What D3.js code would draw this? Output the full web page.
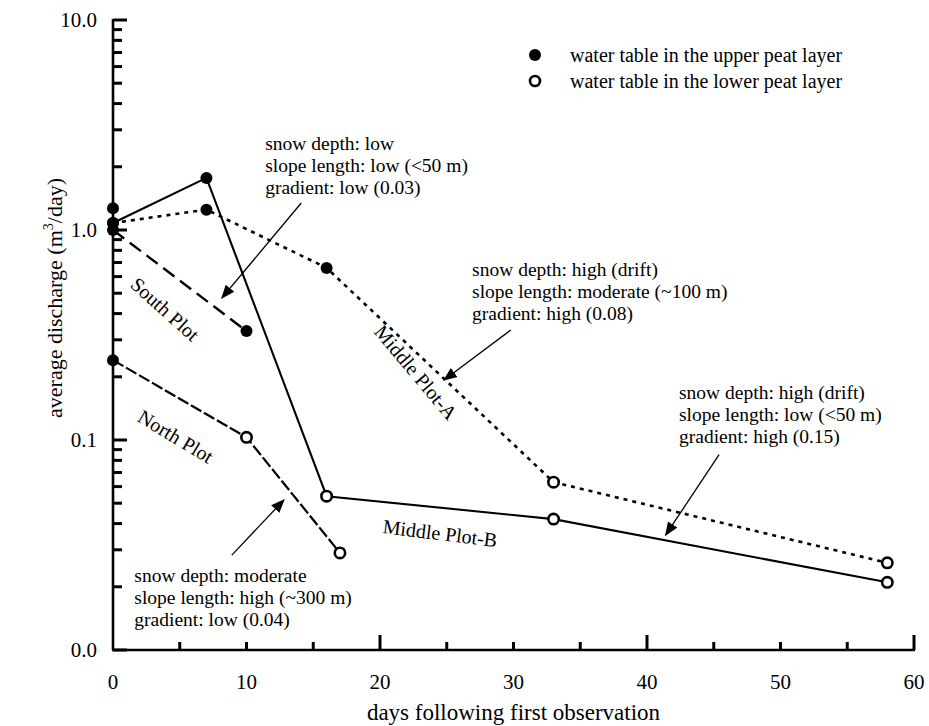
<!DOCTYPE html>
<html>
<head>
<meta charset="utf-8">
<script src="https://cdn.jsdelivr.net/npm/d3@7"></script>
<style>
  body { margin: 0; background: #fff; }
  svg { display: block; font-family: "Liberation Serif", "Times New Roman", serif; }
</style>
</head>
<body>
<svg id="chart" width="929" height="726"></svg>
<script>
// days after first observation, discharge (m3/day), which peat layer held the water table
const middleBDays = [0, 7, 16, 33, 58];
const middleBVals = [1.08, 1.77, 0.054, 0.042, 0.021];
const middleBLayer = ["upper", "upper", "lower", "lower", "lower"];

const middleADays = [0, 7, 16, 33, 58];
const middleAVals = [1.08, 1.25, 0.66, 0.063, 0.026];
const middleALayer = ["upper", "upper", "upper", "lower", "lower"];

const southDays = [0, 10];
const southVals = [1.0, 0.33];
const southLayer = ["upper", "upper"];

const northDays = [0, 10, 17];
const northVals = [0.24, 0.103, 0.029];
const northLayer = ["upper", "lower", "lower"];

// lone day-0 observation not joined to any line
const looseDays = [0];
const looseVals = [1.27];
const looseLayer = ["upper"];

const xTickLabels = [0, 10, 20, 30, 40, 50, 60];
const yTickLabels = ["0.0", "0.1", "1.0", "10.0"];
const yTickVals = [0.01, 0.1, 1, 10];

const svg = d3.select("#chart");
const x = d3.scaleLinear().domain([0, 60]).range([113, 914]);
const y = d3.scaleLog().domain([0.01, 10]).range([650, 20]);

const zip = (days, vals, layer) => days.map((d, i) => ({day: d, val: vals[i], layer: layer[i]}));

const series = [
  {name: "middleB", pts: zip(middleBDays, middleBVals, middleBLayer), dash: null, width: 2.1},
  {name: "middleA", pts: zip(middleADays, middleAVals, middleALayer), dash: "4,5", width: 2.6},
  {name: "south", pts: zip(southDays, southVals, southLayer), dash: "14,7", width: 2.4},
  {name: "north", pts: zip(northDays, northVals, northLayer), dash: "12,3", width: 2.2}
];

// axes
const axisW = 2.6;
svg.append("line").attr("x1", x(0)).attr("x2", x(0)).attr("y1", y(10) - 1).attr("y2", y(0.01))
  .attr("stroke", "#000").attr("stroke-width", axisW);
svg.append("line").attr("x1", x(0) - 1).attr("x2", x(60) + 1).attr("y1", y(0.01)).attr("y2", y(0.01))
  .attr("stroke", "#000").attr("stroke-width", axisW);

// y ticks: decades and the minor steps inside each decade
const yMinor = [];
[0.01, 0.1, 1].forEach(dec => { for (let k = 2; k <= 9; k++) yMinor.push(dec * k); });
svg.selectAll(".ymaj").data(yTickVals).enter().append("line")
  .attr("x1", x(0)).attr("x2", x(0) + 14)
  .attr("y1", d => y(d)).attr("y2", d => y(d))
  .attr("stroke", "#000").attr("stroke-width", 3);
svg.selectAll(".ymin").data(yMinor).enter().append("line")
  .attr("x1", x(0)).attr("x2", x(0) + 9)
  .attr("y1", d => y(d)).attr("y2", d => y(d))
  .attr("stroke", "#000").attr("stroke-width", 3);
svg.selectAll(".ylab").data(yTickVals).enter().append("text")
  .attr("x", 97).attr("y", d => y(d)).attr("dy", "0.35em")
  .attr("text-anchor", "end").attr("font-size", 21)
  .text((d, i) => yTickLabels[i]);

// x ticks: every 5 days, taller at 20/40/60
const xTicks = d3.range(5, 61, 5);
svg.selectAll(".xt").data(xTicks).enter().append("line")
  .attr("x1", d => x(d)).attr("x2", d => x(d))
  .attr("y1", y(0.01)).attr("y2", d => y(0.01) - (d % 20 === 0 ? 15 : 8))
  .attr("stroke", "#000").attr("stroke-width", 3);
svg.selectAll(".xlab").data(xTickLabels).enter().append("text")
  .attr("x", d => x(d)).attr("y", 689)
  .attr("text-anchor", "middle").attr("font-size", 21)
  .text(d => d);

svg.append("text").attr("x", x(30)).attr("y", 720).attr("text-anchor", "middle")
  .attr("font-size", 23).text("days following first observation");

const yt = svg.append("text").attr("transform", "translate(62,298) rotate(-90)")
  .attr("text-anchor", "middle").attr("font-size", 22);
yt.append("tspan").text("average discharge (m");
yt.append("tspan").attr("font-size", 14).attr("dy", -9).text("3");
yt.append("tspan").attr("dy", 9).text("/day)");

// lines
const line = d3.line().x(d => x(d.day)).y(d => y(d.val));
series.forEach(s => {
  svg.append("path").datum(s.pts).attr("d", line)
    .attr("fill", "none").attr("stroke", "#000").attr("stroke-width", s.width)
    .attr("stroke-dasharray", s.dash);
});

// markers
function drawMarkers(pts) {
  svg.selectAll(null).data(pts).enter().append("circle")
    .attr("cx", d => x(d.day)).attr("cy", d => y(d.val))
    .attr("r", d => d.layer === "upper" ? 6 : 5.2)
    .attr("fill", d => d.layer === "upper" ? "#000" : "#fff")
    .attr("stroke", "#000").attr("stroke-width", d => d.layer === "upper" ? 0 : 2.6);
}
series.forEach(s => drawMarkers(s.pts));
drawMarkers(zip(looseDays, looseVals, looseLayer));

// line labels, placed in data units
const lineLabels = [
  {text: "South Plot", day: 3.9, val: 0.42, angle: 42},
  {text: "North Plot", day: 4.7, val: 0.104, angle: 31},
  {text: "Middle Plot-A", day: 22.7, val: 0.21, angle: 50},
  {text: "Middle Plot-B", day: 24.5, val: 0.036, angle: 7}
];
lineLabels.forEach(l => {
  svg.append("text")
    .attr("transform", `translate(${x(l.day)},${y(l.val)}) rotate(${l.angle})`)
    .attr("text-anchor", "middle").attr("dy", "0.35em").attr("font-size", 20)
    .text(l.text);
});

// site descriptions with arrows
const notes = [
  {lines: ["snow depth: low", "slope length: low (<50 m)", "gradient: low (0.03)"],
   day: 11.4, val: 2.40, from: [14.1, 1.345], to: [8.16, 0.475]},
  {lines: ["snow depth: high (drift)", "slope length: moderate (~100 m)", "gradient: high (0.08)"],
   day: 26.9, val: 0.604, from: [29.8, 0.334], to: [24.8, 0.193]},
  {lines: ["snow depth: high (drift)", "slope length: low (<50 m)", "gradient: high (0.15)"],
   day: 42.4, val: 0.157, from: [45.4, 0.0851], to: [41.4, 0.0353]},
  {lines: ["snow depth: moderate", "slope length: high (~300 m)", "gradient: low (0.04)"],
   day: 1.6, val: 0.0211, from: [8.9, 0.0283], to: [12.8, 0.0518]}
];

svg.append("defs").append("marker").attr("id", "arr")
  .attr("viewBox", "0 0 10 10").attr("refX", 9).attr("refY", 5)
  .attr("markerWidth", 14).attr("markerHeight", 14).attr("markerUnits", "userSpaceOnUse")
  .attr("orient", "auto")
  .append("path").attr("d", "M0,1 L10,5 L0,9 Z").attr("fill", "#000");

notes.forEach(n => {
  const t = svg.append("text").attr("x", x(n.day)).attr("y", y(n.val)).attr("font-size", 19.5);
  n.lines.forEach((s, i) => t.append("tspan").attr("x", x(n.day)).attr("dy", i ? 22 : 0).text(s));
  svg.append("line")
    .attr("x1", x(n.from[0])).attr("y1", y(n.from[1]))
    .attr("x2", x(n.to[0])).attr("y2", y(n.to[1]))
    .attr("stroke", "#000").attr("stroke-width", 1.3).attr("marker-end", "url(#arr)");
});

// legend
const legend = [
  {layer: "upper", label: "water table in the upper peat layer", cy: 55},
  {layer: "lower", label: "water table in the lower peat layer", cy: 81}
];
legend.forEach(l => {
  svg.append("circle").attr("cx", 535).attr("cy", l.cy)
    .attr("r", l.layer === "upper" ? 6 : 5)
    .attr("fill", l.layer === "upper" ? "#000" : "#fff")
    .attr("stroke", "#000").attr("stroke-width", l.layer === "upper" ? 0 : 2.6);
  svg.append("text").attr("x", 570).attr("y", l.cy).attr("dy", "0.35em")
    .attr("font-size", 20).text(l.label);
});
</script>
</body>
</html>
